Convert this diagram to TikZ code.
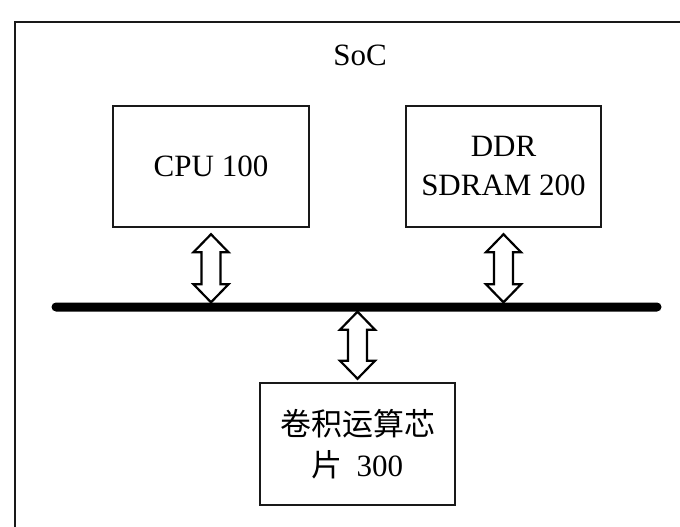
\documentclass[tikz,border=0pt]{standalone}
\usepackage{fontspec}
\setmainfont{Liberation Serif}
\newfontfamily\cjk{Noto Sans CJK SC}
\usetikzlibrary{calc}
\newcommand{\busarrow}[2]{%
  \draw[arrowline] let \p1=(#1), \p2=(#2) in
    (\x1,\y1) -- (\x1+17.5pt,\y1-18pt) -- (\x1+9.5pt,\y1-18pt)
    -- (\x1+9.5pt,\y2+18pt) -- (\x1+17.5pt,\y2+18pt) -- (\x1,\y2)
    -- (\x1-17.5pt,\y2+18pt) -- (\x1-9.5pt,\y2+18pt)
    -- (\x1-9.5pt,\y1-18pt) -- (\x1-17.5pt,\y1-18pt) -- cycle;}
\begin{document}
\begin{tikzpicture}[x=1pt,y=-1pt,
  box/.style={draw=black!90, line width=2.5pt, inner sep=0pt, align=center,
    font=\fontsize{31}{39}\selectfont},
  arrowline/.style={draw=black, line width=2.2pt, line join=miter, fill=white},
  txt/.style={font=\fontsize{31}{39}\selectfont, inner sep=0pt}]
\useasboundingbox (0,0) rectangle (680,527);
\clip (0,0) rectangle (680,527);
\fill[white] (0,0) rectangle (680,527);
\draw[draw=black!90, line width=2.5pt] (15,22) rectangle (720,580);
\node[txt] (soc) at (360,55) {SoC};
\node[box, minimum width=196pt, minimum height=121pt] (cpu) at (211,166.5) {CPU 100};
\node[box, minimum width=195pt, minimum height=121pt] (ddr) at (503.5,166.5) {DDR\\SDRAM 200};
\node[box, minimum width=195pt, minimum height=122pt,
  font=\fontsize{31}{41}\selectfont] (conv) at (357.5,444) {{\cjk 卷积运算芯}\\{\cjk 片}\hspace{0.45em}300};
\node[fill=black, inner sep=0pt, minimum width=610pt, minimum height=9pt,
  rounded corners=4.5pt] (bus) at (356.5,307) {};
\coordinate (cput) at ([yshift=-6pt]cpu.south);
\coordinate (cpub) at (cpu.south |- bus.north);
\coordinate (ddrt) at ([yshift=-6pt]ddr.south);
\coordinate (ddrb) at (ddr.south |- bus.north);
\coordinate (convt) at (conv.north |- bus.south);
\coordinate (convb) at ([yshift=3pt]conv.north);
\busarrow{cput}{cpub}
\busarrow{ddrt}{ddrb}
\busarrow{convt}{convb}
\end{tikzpicture}
\end{document}
